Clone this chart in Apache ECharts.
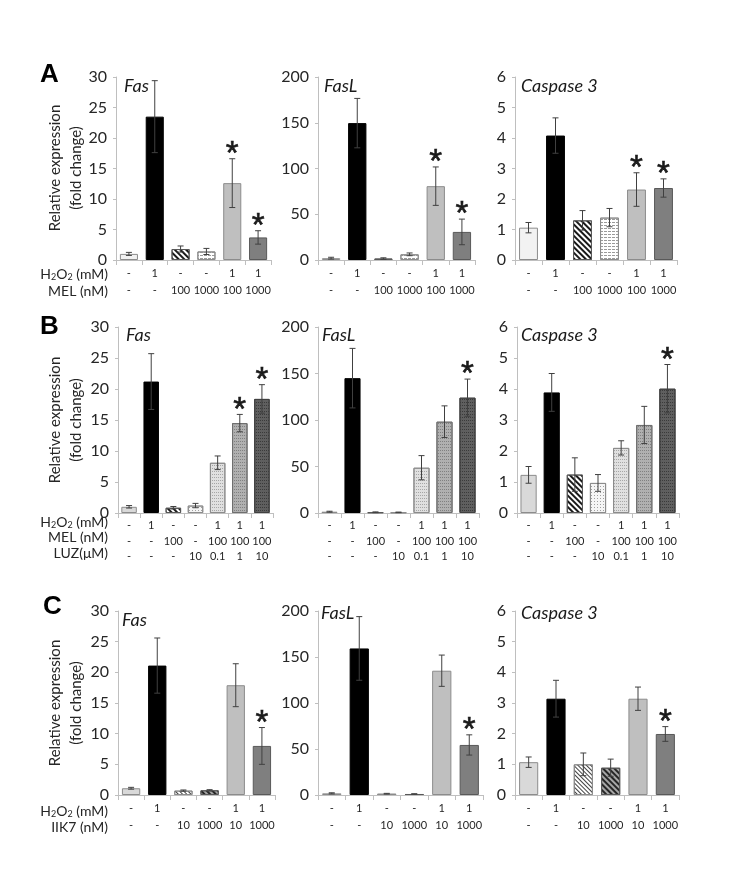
<!DOCTYPE html>
<html><head><meta charset="utf-8">
<script src="https://cdn.jsdelivr.net/npm/echarts@6/dist/echarts.min.js"></script>
<style>html,body{margin:0;padding:0;background:#fff}#c{width:738px;height:871px}</style>
</head><body><div id="c"></div>
<script>
// ---------- category tick labels ----------
const aH2O2 = ['-', '1', '-', '-', '1', '1'];
const aMEL  = ['-', '-', '100', '1000', '100', '1000'];
const bH2O2 = ['-', '1', '-', '-', '1', '1', '1'];
const bMEL  = ['-', '-', '100', '-', '100', '100', '100'];
const bLUZ  = ['-', '-', '-', '10', '0.1', '1', '10'];
const cH2O2 = ['-', '1', '-', '-', '1', '1'];
const cIIK7 = ['-', '-', '10', '1000', '10', '1000'];

// ---------- values (mean, error, significance) ----------
const aFas     = [1.0, 23.5, 1.8, 1.4, 12.6, 3.7];
const aFasErr  = [0.25, 5.9, 0.5, 0.5, 4.0, 1.1];
const aFasSig  = [0, 0, 0, 0, 1, 1];
const aFasL    = [2.0, 149.6, 1.6, 6.2, 80.7, 30.7];
const aFasLErr = [1.0, 27, 0.8, 1.5, 21, 14];
const aFasLSig = [0, 0, 0, 0, 1, 1];
const aCas     = [1.06, 4.08, 1.30, 1.39, 2.31, 2.36];
const aCasErr  = [0.17, 0.58, 0.32, 0.30, 0.55, 0.30];
const aCasSig  = [0, 0, 0, 0, 1, 1];

const bFas     = [1.0, 21.2, 0.85, 1.2, 8.1, 14.5, 18.4];
const bFasErr  = [0.2, 4.5, 0.2, 0.35, 1.1, 1.4, 2.3];
const bFasSig  = [0, 0, 0, 0, 0, 1, 1];
const bFasL    = [1.4, 145, 0.8, 0.7, 48.7, 98.2, 124];
const bFasLErr = [0.5, 32, 0.4, 0.3, 13, 17, 20];
const bFasLSig = [0, 0, 0, 0, 0, 0, 1];
const bCas     = [1.23, 3.89, 1.24, 0.97, 2.10, 2.84, 4.01];
const bCasErr  = [0.27, 0.61, 0.54, 0.27, 0.23, 0.60, 0.78];
const bCasSig  = [0, 0, 0, 0, 0, 0, 1];

const cFas     = [1.1, 21.1, 0.72, 0.77, 17.9, 8.0];
const cFasErr  = [0.15, 4.5, 0.1, 0.1, 3.5, 3.0];
const cFasSig  = [0, 0, 0, 0, 0, 1];
const cFasL    = [1.8, 159.3, 1.4, 1.1, 135.1, 54.4];
const cFasLErr = [0.6, 34.6, 0.4, 0.3, 17, 11];
const cFasLSig = [0, 0, 0, 0, 0, 1];
const cCas     = [1.07, 3.14, 1.0, 0.89, 3.14, 1.99];
const cCasErr  = [0.17, 0.60, 0.37, 0.28, 0.38, 0.24];
const cCasSig  = [0, 0, 0, 0, 0, 1];

// ---------- styles ----------
const FONT = 'Lato, "Open Sans", "DejaVu Sans", sans-serif';
const ROT = Math.PI / 4;
const S = {
  lightA: {color: '#f2f2f2', borderColor: '#8c8c8c'},
  light:  {color: '#d9d9d9', borderColor: '#8c8c8c'},
  black:  {color: '#000000', borderColor: '#000000'},
  mid:    {color: '#bfbfbf', borderColor: '#8c8c8c'},
  dark:   {color: '#7f7f7f', borderColor: '#595959'},
  hatch:  {color: '#ffffff', borderColor: '#595959',
           decal: {symbol: 'rect', symbolSize: 1, dashArrayX: [1, 0], dashArrayY: [1.1, 1.3], rotation: ROT, color: '#1a1a1a'}},
  hatchLight: {color: '#ffffff', borderColor: '#8c8c8c',
           decal: {symbol: 'rect', symbolSize: 1, dashArrayX: [1, 0], dashArrayY: [1, 2], rotation: ROT, color: '#404040'}},
  hatchDark: {color: '#a6a6a6', borderColor: '#595959',
           decal: {symbol: 'rect', symbolSize: 1, dashArrayX: [1, 0], dashArrayY: [1.2, 1.1], rotation: ROT, color: '#262626'}},
  dashH:  {color: '#ffffff', borderColor: '#8c8c8c',
           decal: {symbol: 'rect', symbolSize: 1, dashArrayX: [3, 1], dashArrayY: [1, 2], rotation: 0, color: '#9a9a9a'}},
  dot1:   {color: '#f5f5f5', borderColor: '#8c8c8c',
           decal: {symbol: 'rect', symbolSize: 1, dashArrayX: [1, 2], dashArrayY: [1, 2], rotation: 0, color: '#a0a0a0'}},
  dot2:   {color: '#e0e0e0', borderColor: '#8c8c8c',
           decal: {symbol: 'rect', symbolSize: 1, dashArrayX: [1, 1], dashArrayY: [1, 2], rotation: 0, color: '#a6a6a6'}},
  dot3:   {color: '#b0b0b0', borderColor: '#6f6f6f',
           decal: {symbol: 'rect', symbolSize: 1, dashArrayX: [1, 1], dashArrayY: [1, 2], rotation: 0, color: '#808080'}},
  dot4:   {color: '#5f5f5f', borderColor: '#404040',
           decal: {symbol: 'rect', symbolSize: 1, dashArrayX: [1, 1], dashArrayY: [1, 2], rotation: 0, color: '#3a3a3a'}}
};
const styleA = [S.lightA, S.black, S.hatch, S.dashH, S.mid, S.dark];
const styleB = [S.light, S.black, S.hatch, S.dot1, S.dot2, S.dot3, S.dot4];
const styleC = [S.light, S.black, S.hatchLight, S.hatchDark, S.mid, S.dark];

const panels = [
  {rows: [aH2O2, aMEL], vals: aFas, errs: aFasErr, sig: aFasSig, max: 30, step: 5, rect: [116, 77, 155, 183], st: styleA, title: 'Fas', tp: [124, 88]},
  {rows: [aH2O2, aMEL], vals: aFasL, errs: aFasLErr, sig: aFasLSig, max: 200, step: 50, rect: [318, 77, 157, 183], st: styleA, title: 'FasL', tp: [324, 88]},
  {rows: [aH2O2, aMEL], vals: aCas, errs: aCasErr, sig: aCasSig, max: 6, step: 1, rect: [515, 77, 162, 183], st: styleA, title: 'Caspase 3', tp: [521, 88]},
  {rows: [bH2O2, bMEL, bLUZ], vals: bFas, errs: bFasErr, sig: bFasSig, max: 30, step: 5, rect: [118, 327, 155, 186], st: styleB, title: 'Fas', tp: [126, 337]},
  {rows: [bH2O2, bMEL, bLUZ], vals: bFasL, errs: bFasLErr, sig: bFasLSig, max: 200, step: 50, rect: [318, 327, 161, 186], st: styleB, title: 'FasL', tp: [322, 337]},
  {rows: [bH2O2, bMEL, bLUZ], vals: bCas, errs: bCasErr, sig: bCasSig, max: 6, step: 1, rect: [517, 327, 162, 186], st: styleB, title: 'Caspase 3', tp: [521, 337]},
  {rows: [cH2O2, cIIK7], vals: cFas, errs: cFasErr, sig: cFasSig, max: 30, step: 5, rect: [118, 611, 157, 184], st: styleC, title: 'Fas', tp: [122, 622]},
  {rows: [cH2O2, cIIK7], vals: cFasL, errs: cFasLErr, sig: cFasLSig, max: 200, step: 50, rect: [318, 611, 165, 184], st: styleC, title: 'FasL', tp: [321, 615]},
  {rows: [cH2O2, cIIK7], vals: cCas, errs: cCasErr, sig: cCasSig, max: 6, step: 1, rect: [515, 611, 164, 184], st: styleC, title: 'Caspase 3', tp: [521, 615]}
];

const grid = [], xAxis = [], yAxis = [], series = [], graphic = [];
const AX = '#bfbfbf';

panels.forEach((p, k) => {
  grid.push({left: p.rect[0], top: p.rect[1], width: p.rect[2], height: p.rect[3]});
  const rows = p.rows;
  xAxis.push({
    type: 'category', gridIndex: k, data: p.vals.map((_, i) => String(i)),
    axisLine: {lineStyle: {color: AX}},
    axisTick: {show: true, length: 5, lineStyle: {color: AX}, alignWithLabel: false},
    axisLabel: {
      interval: 0, margin: 5, fontSize: 11, lineHeight: rows.length === 3 ? 15.5 : 17,
      color: '#262626', fontFamily: FONT,
      formatter: (v, i) => rows.map(r => r[i]).join('\n')
    }
  });
  yAxis.push({
    type: 'value', gridIndex: k, min: 0, max: p.max, interval: p.step,
    axisLine: {show: true, lineStyle: {color: AX}},
    axisTick: {show: true, length: 3, lineStyle: {color: AX}},
    splitLine: {show: false},
    axisLabel: {fontSize: 16, color: '#262626', fontFamily: FONT, margin: 9}
  });
  series.push({
    type: 'bar', xAxisIndex: k, yAxisIndex: k, barCategoryGap: '30%',
    data: p.vals.map((v, i) => ({value: v, itemStyle: Object.assign({borderWidth: 1}, p.st[i])})),
    animation: false
  });
  series.push({
    type: 'custom', xAxisIndex: k, yAxisIndex: k, clip: false, animation: false, z: 5,
    data: p.vals.map((v, i) => [i, v, p.errs[i], p.sig[i]]),
    encode: {x: 0, y: 1},
    renderItem: function (params, api) {
      const i = api.value(0), v = api.value(1), e = api.value(2), s = api.value(3);
      const top = api.coord([i, v + e]);
      const bot = api.coord([i, Math.max(v - e, 0)]);
      const c = 3;
      const st = {stroke: '#404040', lineWidth: 1};
      const ch = [
        {type: 'line', shape: {x1: top[0], y1: top[1], x2: bot[0], y2: bot[1]}, style: st},
        {type: 'line', shape: {x1: top[0] - c, y1: top[1], x2: top[0] + c, y2: top[1]}, style: st},
        {type: 'line', shape: {x1: bot[0] - c, y1: bot[1], x2: bot[0] + c, y2: bot[1]}, style: st}
      ];
      if (s) ch.push({type: 'text', style: {text: '*', x: top[0], y: top[1] - 4, align: 'center', verticalAlign: 'middle',
        fontSize: 33, fontFamily: '"Liberation Sans", Arial, sans-serif', fill: '#1a1a1a', stroke: '#1a1a1a', lineWidth: 0.6}});
      return {type: 'group', children: ch};
    }
  });
  graphic.push({type: 'text', left: p.tp[0], top: p.tp[1] - 11,
    style: {text: p.title, fontSize: 18, fontStyle: 'italic', fontFamily: FONT, fill: '#1a1a1a'}});
});

// panel letters
[['A', 40, 62], ['B', 40, 314], ['C', 43, 594]].forEach(t => {
  graphic.push({type: 'text', left: t[1], top: t[2], style: {text: t[0], fontSize: 26, fontWeight: 'bold', fontFamily: '"Liberation Sans", Arial, sans-serif', fill: '#000'}});
});

// y-axis titles
[168, 420, 703].forEach(cy => {
  graphic.push({type: 'text', x: 66, y: cy, rotation: Math.PI / 2,
    style: {text: 'Relative expression\n(fold change)', align: 'center', verticalAlign: 'middle', fontSize: 15, lineHeight: 21, fontFamily: FONT, fill: '#262626'}});
});

// row labels
const rich = {n: {fontSize: 14, fontFamily: FONT, fill: '#262626', lineHeight: 16}, s: {fontSize: 9, fontFamily: FONT, fill: '#262626', verticalAlign: 'bottom', lineHeight: 9}};
function rowLabel(txt, y, isH2O2) {
  const style = isH2O2
    ? {text: '{n|H}{s|2}{n|O}{s|2}{n| (mM)}', rich: rich, align: 'right', verticalAlign: 'middle', x: 108, y: y}
    : {text: txt, align: 'right', verticalAlign: 'middle', x: 108, y: y, fontSize: 14, fontFamily: FONT, fill: '#262626'};
  graphic.push({type: 'text', style: style});
}
rowLabel('', 274, true); rowLabel('MEL (nM)', 291);
rowLabel('', 522, true); rowLabel('MEL (nM)', 537.5); rowLabel('LUZ(\u03bcM)', 553);
rowLabel('', 811, true); rowLabel('IIK7 (nM)', 827);

const chart = echarts.init(document.getElementById('c'), null, {renderer: 'canvas'});
chart.setOption({backgroundColor: '#fff', animation: false, grid, xAxis, yAxis, series, graphic});
</script></body></html>
